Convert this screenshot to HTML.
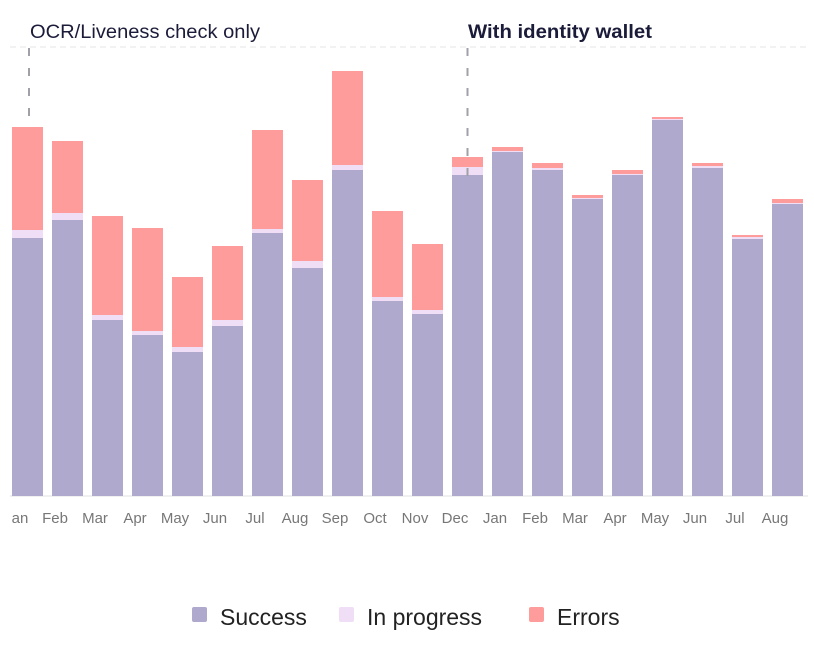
<!DOCTYPE html>
<html><head><style>
body{margin:0;background:#fff;width:814px;height:640px;overflow:hidden;font-family:"Liberation Sans",sans-serif}
</style></head><body>
<svg width="814" height="640" xmlns="http://www.w3.org/2000/svg">
<line x1="10" y1="47" x2="808" y2="47" stroke="#e6e6e6" stroke-dasharray="6,4"/>
<line x1="10" y1="496" x2="808" y2="496" stroke="#e0e0e0"/>
<g id="bars"></g>
<line x1="29" y1="48" x2="29" y2="127" stroke="#a0a0a8" stroke-width="2" stroke-dasharray="8,12"/>
<line x1="467.5" y1="48" x2="467.5" y2="176" stroke="#a0a0a8" stroke-width="2" stroke-dasharray="8,12"/>
<text x="30" y="38" font-size="19" fill="#1b1b3a" textLength="230" lengthAdjust="spacingAndGlyphs">OCR/Liveness check only</text>
<text x="468" y="38" font-size="19" font-weight="bold" fill="#1b1b3a" textLength="184" lengthAdjust="spacingAndGlyphs">With identity wallet</text>
<g font-size="15" fill="#777" text-anchor="middle" id="lbl"></g>
<g font-size="23" fill="#222">
<rect x="192" y="607" width="15" height="15" rx="2" fill="#aea9cd"/><text x="220" y="625">Success</text>
<rect x="339" y="607" width="15" height="15" rx="2" fill="#f0def6"/><text x="367" y="625">In progress</text>
<rect x="529" y="607" width="15" height="15" rx="2" fill="#fe9c9c"/><text x="557" y="625">Errors</text>
</g>
</svg>
<script>
var d=[[127,230,238],[141,213,220],[216,315,320],[228,331,335],[277,347,352],[246,320,326],[130,229,233],[180,261,268],[71,165,170],[211,297,301],[244,310,314],[157,167,175],[147,151,152],[163,168,170],[195,198,199],[170,174,175],[117,119,120],[163,166,168],[235,237,239],[199,203,204]];
var m=["Jan","Feb","Mar","Apr","May","Jun","Jul","Aug","Sep","Oct","Nov","Dec","Jan","Feb","Mar","Apr","May","Jun","Jul","Aug"];
var s="",t="";
d.forEach(function(v,i){var x=12+40*i;
s+='<rect x="'+x+'" y="'+v[0]+'" width="31" height="'+(v[1]-v[0])+'" fill="#fe9c9c"/>';
s+='<rect x="'+x+'" y="'+v[1]+'" width="31" height="'+(v[2]-v[1])+'" fill="#f0def6"/>';
s+='<rect x="'+x+'" y="'+v[2]+'" width="31" height="'+(496-v[2])+'" fill="#aea9cd"/>';
t+='<text x="'+(i==0?20:15+40*i)+'" y="523">'+(i==0?"an":m[i])+'</text>';});
document.getElementById("bars").innerHTML=s;
document.getElementById("lbl").innerHTML=t;
</script>
</body></html>
